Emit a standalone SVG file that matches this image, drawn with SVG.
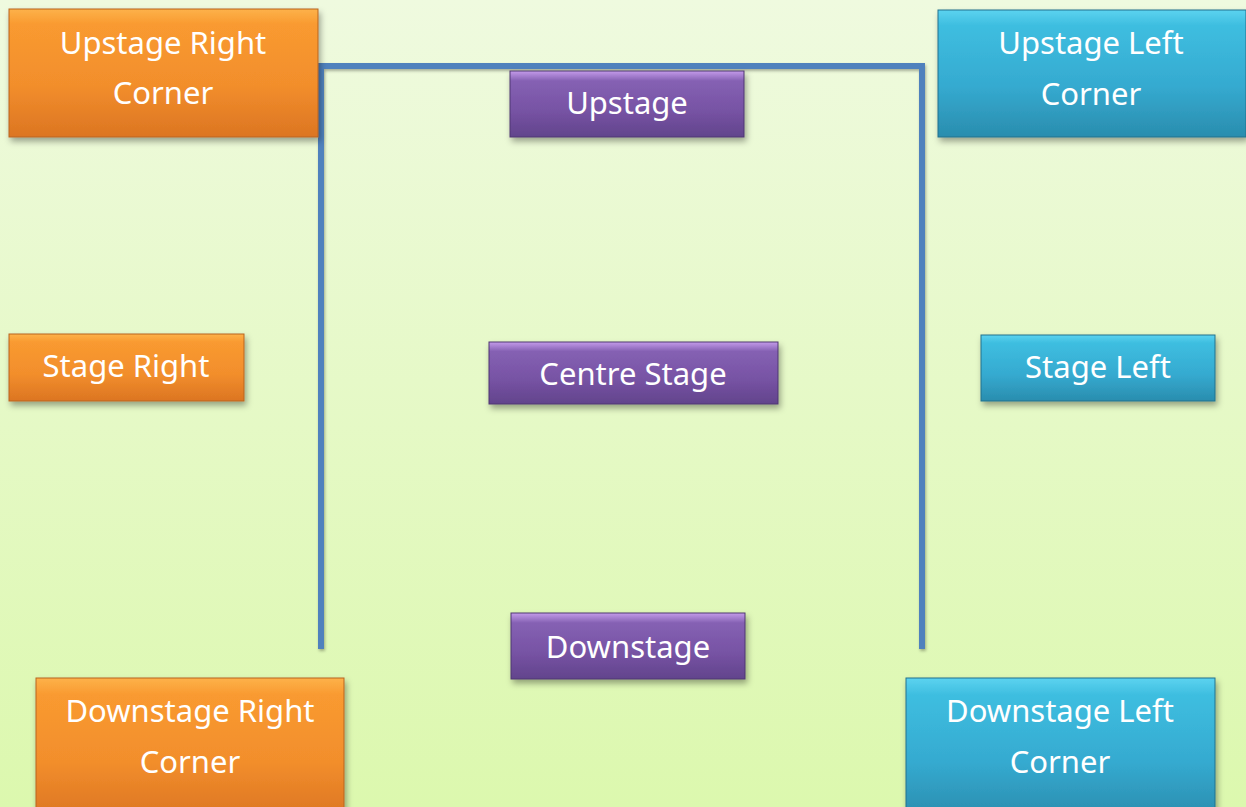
<svg xmlns="http://www.w3.org/2000/svg" width="1246" height="807" viewBox="0 0 1246 807">
<defs>
<linearGradient id="bg" x1="0" y1="0" x2="0" y2="1">
<stop offset="0" stop-color="#EFFADF"/>
<stop offset="1" stop-color="#DCF8AE"/>
</linearGradient>
<linearGradient id="gOr" x1="0" y1="0" x2="0" y2="1">
<stop offset="0" stop-color="#FDB24A"/>
<stop offset="0.12" stop-color="#F99A30"/>
<stop offset="0.6" stop-color="#F28E2C"/>
<stop offset="1" stop-color="#DC7522"/>
</linearGradient>
<linearGradient id="gPu" x1="0" y1="0" x2="0" y2="1">
<stop offset="0" stop-color="#C49BEA"/>
<stop offset="0.15" stop-color="#8561B3"/>
<stop offset="0.6" stop-color="#7753A4"/>
<stop offset="1" stop-color="#62448C"/>
</linearGradient>
<linearGradient id="gBl" x1="0" y1="0" x2="0" y2="1">
<stop offset="0" stop-color="#5CD3F0"/>
<stop offset="0.12" stop-color="#3EBEE0"/>
<stop offset="0.6" stop-color="#35AAD0"/>
<stop offset="1" stop-color="#2A8DAE"/>
</linearGradient>
<filter id="sh" x="-10%" y="-10%" width="125%" height="140%">
<feDropShadow dx="2" dy="4" stdDeviation="3" flood-color="#000" flood-opacity="0.35"/>
</filter>
<filter id="lsh" x="-10%" y="-10%" width="125%" height="125%">
<feDropShadow dx="1" dy="2" stdDeviation="1.5" flood-color="#000" flood-opacity="0.3"/>
</filter>
</defs>
<style>
.or{fill:url(#gOr);stroke:#B8651E;stroke-width:1;filter:url(#sh)}
.pu{fill:url(#gPu);stroke:#4E3672;stroke-width:1;filter:url(#sh)}
.bl{fill:url(#gBl);stroke:#22718D;stroke-width:1;filter:url(#sh)}
.t{font-family:"Comic Sans MS","Noto Sans","DejaVu Sans",sans-serif;font-size:31px;fill:#FFFFFF;text-anchor:middle}
.ln{fill:none;stroke:#4F81BD;stroke-width:6;filter:url(#lsh)}
</style>
<rect x="0" y="0" width="1246" height="807" fill="url(#bg)"/>
<g id="connectors">
<path class="ln" d="M321,649 V66 H922 V649"/>
</g>
<g id="upstage-right-corner">
<rect class="or" x="9" y="9" width="309" height="128"/>
<text class="t" x="163" y="54">Upstage Right</text>
<text class="t" x="163" y="104">Corner</text>
</g>
<g id="upstage">
<rect class="pu" x="510" y="71" width="234" height="66"/>
<text class="t" x="627" y="114">Upstage</text>
</g>
<g id="upstage-left-corner">
<rect class="bl" x="938" y="10" width="308" height="127"/>
<text class="t" x="1091" y="54">Upstage Left</text>
<text class="t" x="1091" y="105">Corner</text>
</g>
<g id="stage-right">
<rect class="or" x="9" y="334" width="235" height="67"/>
<text class="t" x="126" y="377">Stage Right</text>
</g>
<g id="centre-stage">
<rect class="pu" x="489" y="342" width="289" height="62"/>
<text class="t" x="633" y="385">Centre Stage</text>
</g>
<g id="stage-left">
<rect class="bl" x="981" y="335" width="234" height="66"/>
<text class="t" x="1098" y="378">Stage Left</text>
</g>
<g id="downstage">
<rect class="pu" x="511" y="613" width="234" height="66"/>
<text class="t" x="628" y="658">Downstage</text>
</g>
<g id="downstage-right-corner">
<rect class="or" x="36" y="678" width="308" height="140"/>
<text class="t" x="190" y="722">Downstage Right</text>
<text class="t" x="190" y="773">Corner</text>
</g>
<g id="downstage-left-corner">
<rect class="bl" x="906" y="678" width="309" height="140"/>
<text class="t" x="1060" y="722">Downstage Left</text>
<text class="t" x="1060" y="773">Corner</text>
</g>
</svg>
